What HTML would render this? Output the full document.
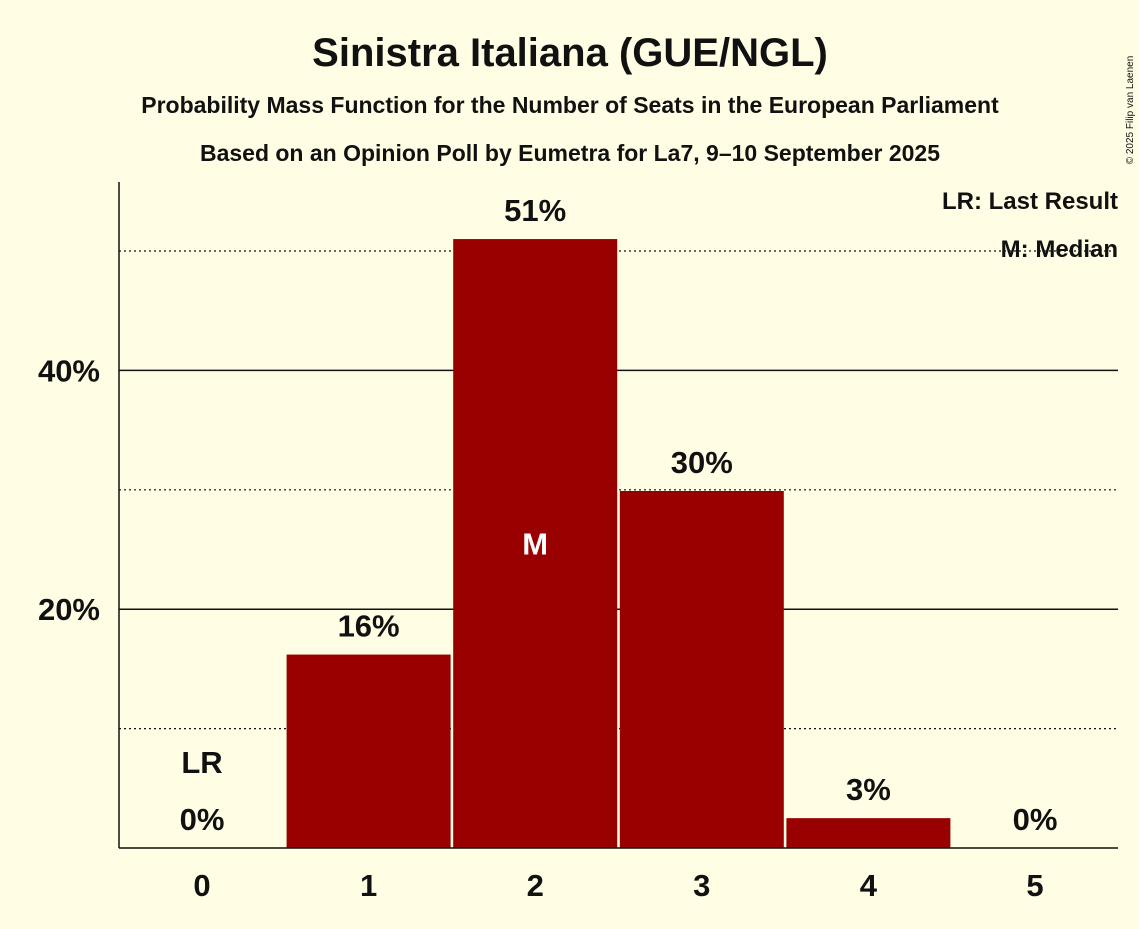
<!DOCTYPE html>
<html><head><meta charset="utf-8"><style>
body{margin:0;background:#fffde3;}
svg text{font-family:"Liberation Sans",sans-serif;font-weight:bold;fill:#111;}
</style></head><body>
<svg id="c" width="1139" height="924" viewBox="0 0 1139 924">
<rect width="1139" height="924" fill="#fffde3"/>
<text x="570" y="66" font-size="40" text-anchor="middle">Sinistra Italiana (GUE/NGL)</text>
<text x="570" y="113" font-size="23" text-anchor="middle">Probability Mass Function for the Number of Seats in the European Parliament</text>
<text x="570" y="161" font-size="23" text-anchor="middle">Based on an Opinion Poll by Eumetra for La7, 9–10 September 2025</text>
<text x="1133" y="110" font-size="10" font-weight="normal" transform="rotate(-90 1133 110)" text-anchor="middle" style="font-weight:normal">© 2025 Filip van Laenen</text>
<g id="grid"></g>
<g id="bars"></g>
<line x1="119" y1="182" x2="119" y2="848" stroke="#111" stroke-width="1.5"/>
<line x1="119" y1="848" x2="1118" y2="848" stroke="#111" stroke-width="1.5"/>
<text x="1118" y="209" font-size="24" text-anchor="end">LR: Last Result</text>
<text x="1118" y="257" font-size="24" text-anchor="end">M: Median</text>
</svg>
<script>
const seats=[0,1,2,3,4,5];
const probs=[0,16.2,51,29.9,2.5,0];
const labels=["0%","16%","51%","30%","3%","0%"];
const yTicks=[20,40];
const dottedTicks=[10,30,50];
const medianSeat=2, lastResultSeat=0;
const ns="http://www.w3.org/2000/svg";
const y=v=>848-v*11.94;
const xc=s=>202+s*166.6;
const grid=document.getElementById('grid'),bars=document.getElementById('bars');
function mk(t,a,p){const e=document.createElementNS(ns,t);for(const k in a)e.setAttribute(k,a[k]);p.appendChild(e);return e;}
dottedTicks.forEach(v=>{const l=mk('line',{x1:119,x2:1118,y1:y(v),y2:y(v),stroke:'#111','stroke-width':1.2,'stroke-dasharray':'2,3'},grid);

});
yTicks.forEach(v=>{const l=mk('line',{x1:119,x2:1118,y1:y(v),y2:y(v),stroke:'#111','stroke-width':1.5},grid);


const t=mk('text',{x:100,y:y(v)+11,'font-size':31,'text-anchor':'end'},grid);t.textContent=v+'%';

});
seats.forEach((s,i)=>{
 const p=probs[i];
 if(p>0){const r=mk('rect',{x:xc(s)-82,y:y(p),width:164,height:848-y(p),fill:'#990000'},bars);
 
 }
 const t=mk('text',{x:xc(s),y:y(p)-18,'font-size':31,'text-anchor':'middle'},bars);t.textContent=labels[i];
 
 
 const xl=mk('text',{x:xc(s),y:896,'font-size':31,'text-anchor':'middle'},bars);xl.textContent=s;
 
 
 if(s===medianSeat){const m=mk('text',{x:xc(s),y:y(p/2)+11,'font-size':31,'text-anchor':'middle',style:'fill:#fff'},bars);m.textContent='M';
 
 }
 if(s===lastResultSeat){const m=mk('text',{x:xc(s),y:y(p)-75,'font-size':31,'text-anchor':'middle'},bars);m.textContent='LR';
 
 }
});
</script>
</body></html>
